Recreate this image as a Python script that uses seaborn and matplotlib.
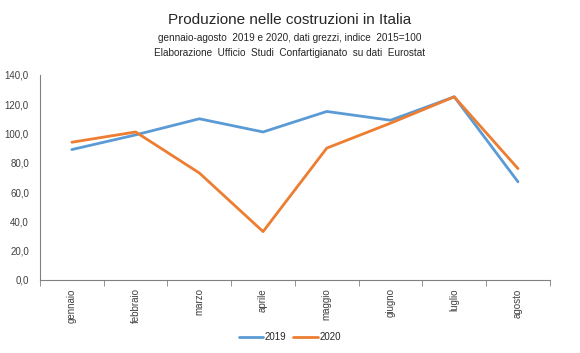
import numpy as np
import pandas as pd
import matplotlib
matplotlib.use("Agg")
import matplotlib.pyplot as plt
import seaborn as sns

mesi = ["gennaio", "febbraio", "marzo", "aprile", "maggio", "giugno", "luglio", "agosto"]
val_2019 = [89, 99, 110, 101, 115, 109, 125, 67]
val_2020 = [94, 101, 73, 33, 90, 107, 125, 76]
y_ticks = [0, 20, 40, 60, 80, 100, 120, 140]

df = pd.DataFrame({
    "mese": mesi * 2,
    "indice": val_2019 + val_2020,
    "anno": ["2019"] * len(mesi) + ["2020"] * len(mesi),
})

sns.set_style("white")
plt.rcParams["font.family"] = ["Liberation Sans Narrow", "Liberation Sans", "DejaVu Sans"]

fig = plt.figure(figsize=(5.8, 3.53), dpi=100)
ax = fig.add_axes([0.069, 0.207, 0.879, 0.581])

sns.lineplot(data=df, x="mese", y="indice", hue="anno",
             palette={"2019": "#5B9BD5", "2020": "#ED7D31"},
             linewidth=2.0, ax=ax, sort=False)

ax.set_xlim(-0.5, len(mesi) - 0.5)
ax.set_ylim(0, 140)
ax.set_yticks(y_ticks)
ax.set_yticklabels([f"{v:.1f}".replace(".", ",") for v in y_ticks], fontsize=7, color="#404040")
ax.set_xticks(range(len(mesi)))
ax.set_xticklabels(mesi, rotation=90, fontsize=7, color="#404040")
ax.set_xticks(np.arange(-0.5, len(mesi)), minor=True)
ax.tick_params(axis="x", which="major", length=0, pad=6)
ax.tick_params(axis="x", which="minor", length=4, color="#808080", direction="out", bottom=True)
ax.tick_params(axis="y", length=0, pad=8)
ax.set_xlabel("")
ax.set_ylabel("")

for s in ["top", "right"]:
    ax.spines[s].set_visible(False)
ax.spines["left"].set_color("#808080")
ax.spines["bottom"].set_color("#808080")
ax.spines["left"].set_linewidth(0.8)
ax.spines["bottom"].set_linewidth(0.8)

ax.legend(loc="center", ncol=2, frameon=False, fontsize=7, handlelength=2.5,
          columnspacing=0.7, handletextpad=0.2)
ax.get_legend().set_bbox_to_anchor((0.5, 0.045), transform=fig.transFigure)

fig.text(0.5, 0.943, "Produzione nelle costruzioni in Italia", ha="center", va="center", fontsize=11)
fig.text(0.5, 0.891, "gennaio-agosto  2019 e 2020, dati grezzi, indice  2015=100", ha="center", va="center", fontsize=7.2)
fig.text(0.5, 0.851, "Elaborazione  Ufficio  Studi  Confartigianato  su dati  Eurostat", ha="center", va="center", fontsize=7.2)

fig.savefig("out.png", dpi=100)
